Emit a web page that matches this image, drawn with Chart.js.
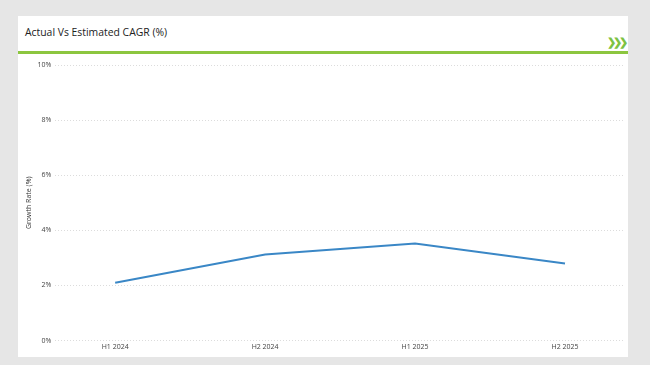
<!DOCTYPE html>
<html>
<head>
<meta charset="utf-8">
<script src="https://cdn.jsdelivr.net/npm/chart.js@4.4.1/dist/chart.umd.min.js"></script>
<style>
  html, body { margin: 0; padding: 0; }
  body { width: 650px; height: 365px; background: #e6e6e6; position: relative; overflow: hidden; font-family: 'Open Sans', sans-serif; }
  #card { position: absolute; left: 18px; top: 16px; width: 610px; height: 341px; background: #fff; }
  #title { position: absolute; left: 7px; top: 9px; font-size: 10.4px; color: #222; }
  #rule { position: absolute; left: 0; top: 35px; width: 610px; height: 3px; background: #8cc63f; }
  #chev { position: absolute; right: 3px; top: 18px; font-size: 11px; font-weight: bold; color: #7dc242; letter-spacing: -3px; }
  #wrap { position: absolute; left: 0; top: 40px; width: 610px; height: 301px; }
</style>
</head>
<body>
<div id="card">
  <div id="title">Actual Vs Estimated CAGR (%)</div>
  <div id="chev">&#10095;&#10095;&#10095;</div>
  <div id="rule"></div>
  <div id="wrap"><canvas id="growthChart"></canvas></div>
</div>
<script>
const periods = ['H1 2024', 'H2 2024', 'H1 2025', 'H2 2025'];
const growthRates = [2.1, 3.12, 3.52, 2.8];
const yTicks = [0, 2, 4, 6, 8, 10];

const points = growthRates.map((v, i) => ({ x: i, y: v }));

const ctx = document.getElementById('growthChart').getContext('2d');
new Chart(ctx, {
    type: 'line',
    data: {
        datasets: [{
            label: 'Growth Rate',
            data: points,
            borderColor: '#3a87c6',
            borderWidth: 2,
            pointRadius: 0,
            tension: 0,
            fill: false
        }]
    },
    options: {
        responsive: true,
        maintainAspectRatio: false,
        animation: false,
        layout: { padding: { top: 9, right: 3, bottom: 4, left: 7 } },
        plugins: { legend: { display: false }, tooltip: { enabled: false } },
        scales: {
            x: {
                type: 'linear',
                min: -0.4,
                max: 3.4,
                grid: { display: false, drawTicks: false },
                border: { display: false },
                afterBuildTicks: axis => { axis.ticks = periods.map((p, i) => ({ value: i })); },
                ticks: {
                    callback: v => periods[v],
                    font: { family: "'Open Sans', sans-serif", size: 7 },
                    color: '#444',
                    padding: 2,
                    maxRotation: 0
                }
            },
            y: {
                min: 0,
                max: 10,
                afterBuildTicks: axis => { axis.ticks = yTicks.map(v => ({ value: v })); },
                grid: { color: '#dcdcdc', lineWidth: 1, drawTicks: false },
                border: { display: false, dash: [1, 2] },
                ticks: {
                    callback: v => v + '%',
                    font: { family: "'Open Sans', sans-serif", size: 7 },
                    color: '#444',
                    padding: 4
                },
                title: {
                    display: true,
                    text: 'Growth Rate (%)',
                    font: { family: "'Open Sans', sans-serif", size: 7 },
                    color: '#333',
                    padding: { top: 0, bottom: 0 }
                }
            }
        }
    }
});
</script>
</body>
</html>
